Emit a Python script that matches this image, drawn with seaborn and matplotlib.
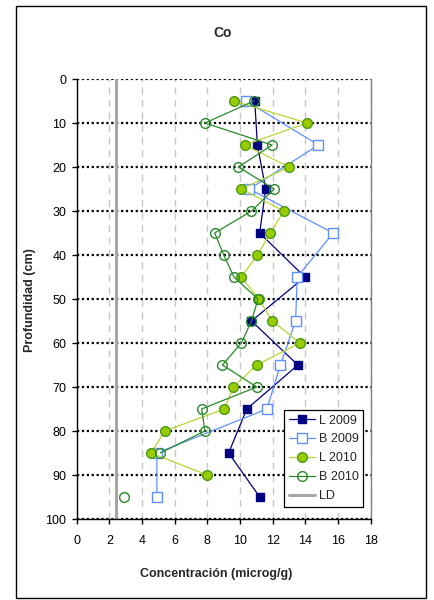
import numpy as np
import pandas as pd
import matplotlib
matplotlib.use("Agg")
import matplotlib.pyplot as plt
import seaborn as sns
from matplotlib.patches import Rectangle

# ---- data ----
depth_all = [5, 10, 15, 20, 25, 30, 35, 40, 45, 50, 55, 60, 65, 70, 75, 80, 85, 90, 95]
depth_odd = [5, 15, 25, 35, 45, 55, 65, 75, 85, 95]
l2009 = [10.9, 11.06, 11.57, 11.2, 13.97, 10.7, 13.54, 10.41, 9.3, 11.2]
b2009 = [10.37, 14.8, 10.57, 15.7, 13.5, 13.4, 12.47, 11.64, 4.91, 4.91]
l2010 = [9.63, 14.1, 10.29, 13.0, 10.08, 12.68, 11.86, 11.06, 10.08, 11.15,
         11.98, 13.66, 11.02, 9.59, 9.04, 5.38, 4.56, 7.98, np.nan]
b2010 = [10.85, 7.85, 11.96, 9.9, 12.09, 10.7, 8.45, 9.0, 9.63, 11.1,
         10.7, 10.08, 8.92, 11.02, 7.65, 7.85, 5.11, np.nan, 2.88]
ld_x = [2.4, 2.4]
ld_y = [0, 100]
x_ticks = list(range(0, 19, 2))
y_ticks = list(range(0, 101, 10))

sns.set_style("white")
plt.rcParams["font.family"] = ["Liberation Sans", "DejaVu Sans"]

fig = plt.figure(figsize=(4.35, 6), dpi=100)
ax = fig.add_axes([0.1763, 0.135, 0.676, 0.7333])


def draw(x, y, label, **kw):
    df = pd.DataFrame({"x": x, "y": y})
    df["seg"] = df["x"].isna().cumsum()
    df = df.dropna()
    first = True
    for _, d in df.groupby("seg"):
        sns.lineplot(data=d, x="x", y="y", sort=False, orient="y", estimator=None,
                     ax=ax, label=label if first else "_nolegend_", **kw)
        first = False


draw(l2009, depth_odd, "L 2009", color="#000080", lw=0.9, marker="s",
     markersize=6, markerfacecolor="#000080", markeredgecolor="#000080", markeredgewidth=1)
draw(b2009, depth_odd, "B 2009", color="#5f8fff", lw=0.9, marker="s",
     markersize=6.5, markerfacecolor="white", markeredgecolor="#5f8fff", markeredgewidth=1)
draw(l2010, depth_all, "L 2010", color="#b8d631", lw=0.9, marker="o",
     markersize=7, markerfacecolor="#99cc00", markeredgecolor="#4a9a1a", markeredgewidth=1)
draw(b2010, depth_all, "B 2010", color="#2a8a2a", lw=0.9, marker="o",
     markersize=7, markerfacecolor="none", markeredgecolor="#2a8a2a", markeredgewidth=1)
sns.lineplot(x=ld_x, y=ld_y, sort=False, orient="y", estimator=None, ax=ax,
             color="#a6a6a6", lw=2.2, label="LD")

ax.set_xlim(0, 18)
ax.set_ylim(100, 0)
ax.set_xticks(x_ticks)
ax.set_yticks(y_ticks)
ax.set_xlabel("")
ax.set_ylabel("")
ax.set_axisbelow(True)
ax.grid(axis="x", color="#c8c8c8", linestyle=(0, (5, 4)), lw=1)
ax.grid(axis="y", color="black", linestyle=(0, (1, 1.2)), lw=1.6)

for side in ["left", "bottom"]:
    ax.spines[side].set_color("black")
    ax.spines[side].set_linewidth(1)
ax.spines["top"].set_visible(False)
ax.spines["right"].set_color("#808080")
ax.spines["right"].set_linewidth(1)
ax.tick_params(axis="both", labelsize=9, colors="black", direction="out")
ax.tick_params(axis="y", length=3.5, width=1, pad=4, left=True)
ax.tick_params(axis="x", length=3.5, width=1, pad=8, bottom=True)

leg = ax.legend(loc="lower right", bbox_to_anchor=(0.975, 0.027), frameon=True,
                fancybox=False, edgecolor="black", framealpha=1, fontsize=9,
                handlelength=2.1, labelspacing=0.55, borderpad=0.4,
                handletextpad=0.3, borderaxespad=0)
leg.get_frame().set_linewidth(0.9)

fig.text(0.512, 0.945, "Co", ha="center", va="center", fontsize=10, fontweight="bold")
fig.text(0.498, 0.0433, "Concentración (microg/g)", ha="center", va="center",
         fontsize=9, fontweight="bold")
fig.text(0.069, 0.50, "Profundidad (cm)", ha="center", va="center", rotation=90,
         fontsize=9, fontweight="bold")

fig.add_artist(Rectangle((0.0368, 0.0033), 0.9425, 0.987, transform=fig.transFigure,
                         fill=False, ec="black", lw=1))

fig.savefig("out.png", dpi=100)
